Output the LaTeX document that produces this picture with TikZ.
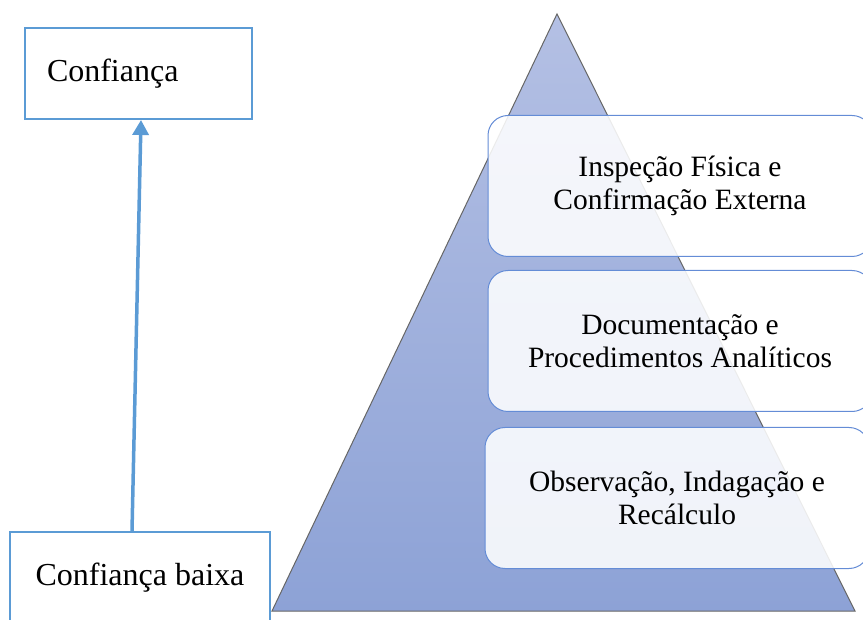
\documentclass[tikz,border=0pt]{standalone}
\usepackage{fontspec}
\setmainfont{Liberation Serif}
\usetikzlibrary{positioning,calc,arrows.meta}
\definecolor{wordblue}{RGB}{91,155,213}
\definecolor{stepline}{RGB}{100,140,214}
\definecolor{pyrtop}{RGB}{180,192,228}
\definecolor{pyrbot}{RGB}{141,162,214}
\tikzset{>={Triangle[length=15pt,width=16pt]},
  lvlbox/.style={draw=stepline,line width=1pt,rounded corners=20pt,fill=white,
    fill opacity=0.87,text opacity=1,minimum width=384pt,minimum height=141pt,
    align=center,font=\fontsize{29.5}{33}\selectfont},
  tagbox/.style={draw=wordblue,line width=2pt,fill=white,
    font=\fontsize{32}{38}\selectfont}}

\begin{document}
\begin{tikzpicture}[x=1pt,y=-1pt]
  \useasboundingbox (0,0) rectangle (863,620);
  \clip (0,0) rectangle (863,620);
  % pyramid
  \coordinate (top) at (557,14);
  \coordinate (bl) at (272,611);
  \coordinate (br) at (855,611);
  \path [draw=black!60,line width=1pt,top color=pyrtop,bottom color=pyrbot]
    (top) -- (br) -- (bl) -- cycle;
  % levels
  \node [lvlbox] (L3) at (680,186) {Inspeção Física e\\Confirmação Externa};
  \node [lvlbox] (L2) at (680,341) {Documentação e\\Procedimentos Analíticos};
  \node [lvlbox] (L1) at (677,498) {Observação, Indagação e\\Recálculo};
  % confidence
  \node [tagbox,minimum width=227pt,minimum height=91pt,text width=183pt,
    inner xsep=22pt,align=left] (conf) at (138.5,73.5) {Confiança};
  \node [tagbox,minimum width=260pt,minimum height=92pt] (low) at (140,578)
    {Confiança baixa};
  \draw [->,draw=wordblue,fill=wordblue,line width=3.5pt]
    ([xshift=-8pt]low.north) -- ([xshift=2.5pt]conf.south);
\end{tikzpicture}
\end{document}
